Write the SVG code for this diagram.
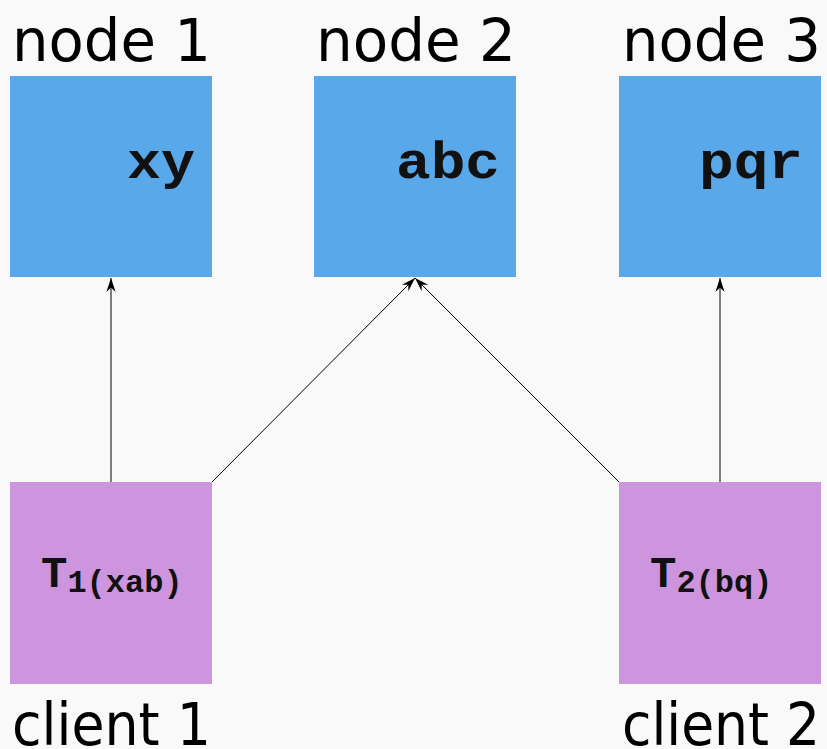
<svg xmlns="http://www.w3.org/2000/svg" width="827" height="749" viewBox="0 0 827 749">
<defs>
<style>
.bg{fill:#f9f9f9}
.node{fill:#59a8e9}
.client{fill:#ce95df}
.lbl{font-family:"DejaVu Sans",sans-serif;font-size:58px;fill:#000}
.mono{font-family:"Courier New","Liberation Mono",monospace;font-weight:bold;fill:#111}
.big{font-size:52px}
.conn{stroke:#000;stroke-width:1;fill:none;marker-end:url(#arr)}
</style>
<marker id="arr" markerUnits="userSpaceOnUse" markerWidth="16" markerHeight="12" viewBox="-15 -6 16 12" refX="0" refY="0" orient="auto">
<path d="M0,0 L-14,-4.6 L-9.5,0 L-14,4.6 Z" fill="#000"/>
</marker>
</defs>
<rect class="bg" x="0" y="0" width="827" height="749"/>
<g id="connectors">
<line class="conn" x1="111" y1="482" x2="111" y2="278"/>
<line class="conn" x1="212" y1="482" x2="415" y2="278"/>
<line class="conn" x1="619" y1="482" x2="415" y2="278"/>
<line class="conn" x1="720" y1="482" x2="720" y2="278"/>
</g>
<g id="node1">
<rect class="node" x="10" y="76" width="202" height="201"/>
<text class="lbl" x="12" y="61" textLength="199" lengthAdjust="spacingAndGlyphs">node 1</text>
<text class="mono big" x="127" y="178" textLength="68" lengthAdjust="spacingAndGlyphs">xy</text>
</g>
<g id="node2">
<rect class="node" x="314" y="76" width="202" height="201"/>
<text class="lbl" x="316" y="61" textLength="200" lengthAdjust="spacingAndGlyphs">node 2</text>
<text class="mono big" x="396" y="178" textLength="104" lengthAdjust="spacingAndGlyphs">abc</text>
</g>
<g id="node3">
<rect class="node" x="619" y="76" width="202" height="201"/>
<text class="lbl" x="622" y="61" textLength="199" lengthAdjust="spacingAndGlyphs">node 3</text>
<text class="mono big" x="699" y="178" textLength="104" lengthAdjust="spacingAndGlyphs">pqr</text>
</g>
<g id="client1">
<rect class="client" x="10" y="482" width="202" height="202"/>
<text class="lbl" x="12" y="745" textLength="199" lengthAdjust="spacingAndGlyphs">client 1</text>
<text class="mono" x="41" y="587" font-size="44">T<tspan font-size="32" dy="5">1(xab)</tspan></text>
</g>
<g id="client2">
<rect class="client" x="619" y="482" width="202" height="202"/>
<text class="lbl" x="622" y="745" textLength="198" lengthAdjust="spacingAndGlyphs">client 2</text>
<text class="mono" x="650" y="587" font-size="44">T<tspan font-size="32" dy="5">2(bq)</tspan></text>
</g>
</svg>
